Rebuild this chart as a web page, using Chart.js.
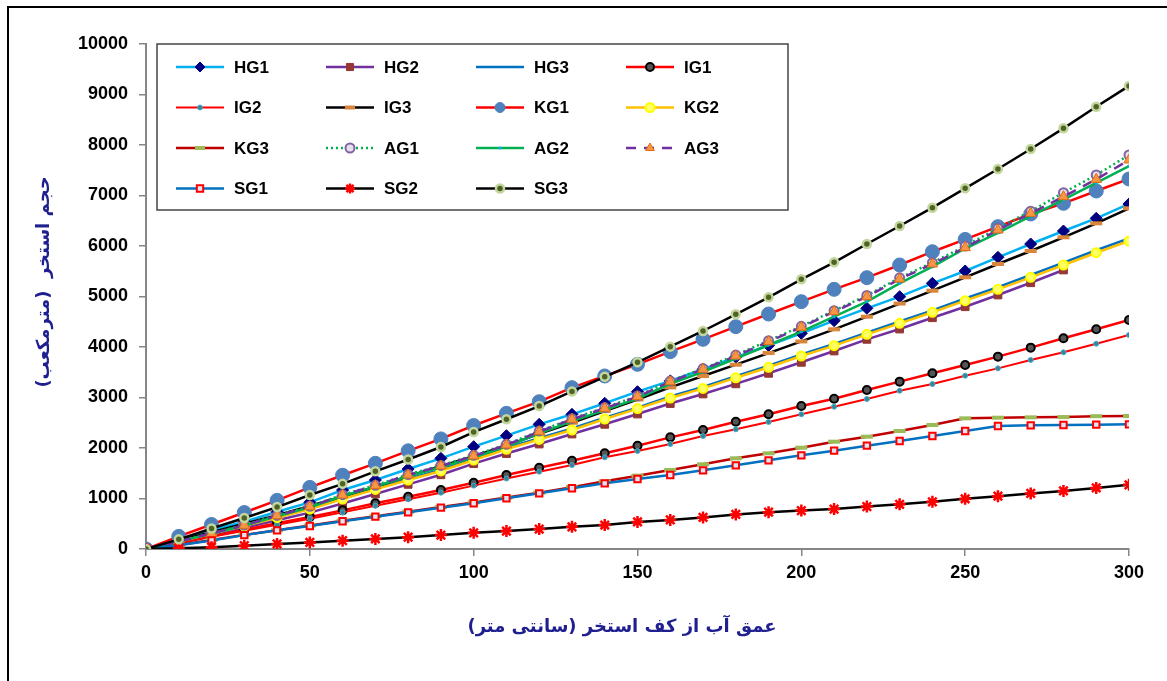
<!DOCTYPE html>
<html>
<head>
    <title>Pool volume vs depth</title>
    <style>
        body {
            margin: 0;
            background: #fff;
        }
        #wrap {
            width: 1167px;
            height: 681px;
        }
    </style>
    <script src="https://cdn.jsdelivr.net/npm/chart.js"></script>
</head>
<body>
    <div id="wrap">
        <canvas id="volumeChart" width="1167" height="681"></canvas>
    </div>

    <script>
        // depth from pool floor (cm)
        const depth = [0, 10, 20, 30, 40, 50, 60, 70, 80, 90, 100, 110, 120, 130, 140, 150,
                       160, 170, 180, 190, 200, 210, 220, 230, 240, 250, 260, 270, 280, 290, 300];

        const seriesNames = ['HG1', 'HG2', 'HG3', 'IG1', 'IG2', 'IG3', 'KG1', 'KG2',
                             'KG3', 'AG1', 'AG2', 'AG3', 'SG1', 'SG2', 'SG3'];

        // pool volume (m3)
        const HG1 = [0, 190, 370, 540, 739, 924, 1168, 1366, 1584, 1795, 2026, 2244, 2469, 2667, 2885, 3115, 3330, 3560, 3800, 4030, 4271, 4521, 4766, 4996, 5261, 5505, 5776, 6040, 6297, 6548, 6832];
        const HG2 = [0, 135, 275, 420, 570, 720, 900, 1090, 1280, 1470, 1690, 1890, 2079, 2277, 2469, 2673, 2880, 3070, 3270, 3479, 3697, 3921, 4152, 4356, 4580, 4798, 5030, 5273, 5525];
        const HG3 = [0, 150, 305, 465, 630, 800, 1000, 1195, 1385, 1570, 1785, 2000, 2195, 2385, 2600, 2800, 3020, 3210, 3420, 3630, 3855, 4060, 4285, 4505, 4725, 4960, 5185, 5425, 5670, 5915, 6150];
        const IG1 = [0, 120, 250, 380, 510, 635, 765, 905, 1036, 1168, 1313, 1465, 1610, 1749, 1895, 2046, 2211, 2356, 2521, 2667, 2832, 2977, 3149, 3314, 3479, 3644, 3809, 3987, 4172, 4350, 4535];
        const IG2 = [0, 115, 240, 360, 480, 600, 725, 855, 985, 1115, 1255, 1395, 1531, 1663, 1816, 1941, 2079, 2238, 2370, 2515, 2667, 2818, 2970, 3135, 3267, 3432, 3577, 3743, 3895, 4066, 4238];
        const IG3 = [0, 165, 330, 500, 670, 850, 1040, 1230, 1440, 1640, 1840, 2050, 2280, 2500, 2730, 2960, 3200, 3426, 3650, 3880, 4110, 4350, 4600, 4860, 5115, 5380, 5644, 5901, 6172, 6449, 6746];
        const KG1 = [0, 250, 485, 722, 963, 1220, 1460, 1696, 1944, 2180, 2445, 2686, 2917, 3195, 3426, 3657, 3908, 4152, 4403, 4653, 4898, 5142, 5373, 5624, 5887, 6130, 6383, 6634, 6845, 7089, 7327];
        const KG2 = [0, 148, 300, 460, 620, 790, 990, 1180, 1366, 1545, 1762, 1975, 2170, 2356, 2574, 2780, 2990, 3180, 3390, 3598, 3822, 4026, 4251, 4469, 4687, 4917, 5142, 5380, 5624, 5867, 6099];
        const KG3 = [0, 80, 178, 280, 372, 465, 560, 650, 738, 830, 922, 1018, 1115, 1225, 1340, 1452, 1564, 1677, 1796, 1895, 2006, 2125, 2224, 2337, 2455, 2587, 2600, 2607, 2612, 2630, 2634];
        const AG1 = [0, 152, 312, 475, 665, 845, 1075, 1262, 1475, 1655, 1855, 2072, 2335, 2580, 2800, 3030, 3325, 3572, 3840, 4125, 4410, 4720, 5020, 5370, 5670, 6000, 6350, 6690, 7056, 7406, 7802];
        const AG2 = [0, 150, 305, 465, 650, 825, 1050, 1235, 1440, 1620, 1815, 2030, 2290, 2530, 2750, 2980, 3270, 3510, 3770, 4040, 4304, 4600, 4900, 5261, 5590, 5950, 6260, 6590, 6920, 7250, 7584];
        const AG3 = [0, 150, 310, 470, 660, 838, 1069, 1254, 1465, 1644, 1842, 2059, 2323, 2568, 2786, 3016, 3313, 3558, 3822, 4105, 4390, 4699, 4996, 5346, 5644, 5967, 6317, 6647, 6977, 7320, 7703];
        const SG1 = [0, 75, 170, 275, 370, 455, 550, 640, 726, 818, 905, 1004, 1102, 1202, 1300, 1386, 1465, 1558, 1657, 1756, 1855, 1947, 2046, 2139, 2237, 2337, 2436, 2449, 2455, 2462, 2468];
        const SG2 = [0, 15, 35, 65, 100, 130, 165, 200, 235, 275, 320, 355, 395, 440, 475, 535, 575, 625, 685, 730, 760, 790, 840, 885, 935, 995, 1045, 1100, 1150, 1210, 1270];
        const SG3 = [0, 191, 405, 615, 830, 1069, 1290, 1538, 1772, 2020, 2316, 2570, 2830, 3120, 3410, 3697, 4007, 4317, 4647, 4983, 5340, 5677, 6040, 6396, 6759, 7142, 7525, 7921, 8330, 8759, 9170];

        const xTitle = 'عمق آب از کف استخر (سانتی متر)';
        const yTitle = 'حجم استخر  (مترمکعب)';

        const allValues = [HG1, HG2, HG3, IG1, IG2, IG3, KG1, KG2, KG3, AG1, AG2, AG3, SG1, SG2, SG3];

        // line + marker look of each series, same order as seriesNames
        const styles = [
            { line: '#00B0F0', w: 2.5, pt: 'rectRot', r: 6, bg: '#000080', bd: '#000080', bw: 1 },
            { line: '#7030A0', w: 2.5, pt: 'rect', r: 5.5, bg: '#953735', bd: '#953735', bw: 1 },
            { line: '#0070C0', w: 2.5, pt: 'circle', r: 0, bg: '#0070C0', bd: '#0070C0', bw: 0 },
            { line: '#FF0000', w: 2.5, pt: 'circle', r: 4, bg: '#555555', bd: '#000000', bw: 2 },
            { line: '#FF0000', w: 2, pt: 'circle', r: 2.5, bg: '#31859C', bd: '#4BACC6', bw: 1 },
            { line: '#000000', w: 2.5, pt: 'line', r: 6, bg: '#D9853B', bd: '#D9853B', bw: 4 },
            { line: '#FF0000', w: 2.5, pt: 'circle', r: 7, bg: '#4F81BD', bd: '#4F81BD', bw: 1 },
            { line: '#FFC000', w: 2.5, pt: 'circle', r: 4.5, bg: '#FFFF66', bd: '#FFFF00', bw: 2 },
            { line: '#C00000', w: 2.5, pt: 'line', r: 6, bg: '#9BBB59', bd: '#9BBB59', bw: 4 },
            { line: '#00B050', w: 2.5, pt: 'circle', r: 4.5, bg: '#E6E0EC', bd: '#8064A2', bw: 2, dash: [2, 3] },
            { line: '#00B050', w: 2.5, pt: 'circle', r: 1.5, bg: '#00B0F0', bd: '#00B0F0', bw: 0 },
            { line: '#7030A0', w: 2.5, pt: 'triangle', r: 6, bg: '#F79646', bd: '#E46C0A', bw: 1, dash: [10, 8] },
            { line: '#0070C0', w: 2.5, pt: 'rect', r: 4.5, bg: '#DCE6F2', bd: '#FF0000', bw: 2 },
            { line: '#000000', w: 2.5, pt: 'star', r: 6, bg: '#FF0000', bd: '#FF0000', bw: 2.5 },
            { line: '#000000', w: 2.5, pt: 'circle', r: 4, bg: '#4F6228', bd: '#C3D69B', bw: 2.5 }
        ];

        const datasets = seriesNames.map((name, i) => {
            const s = styles[i];
            return {
                label: name,
                data: allValues[i].map((v, k) => ({ x: depth[k], y: v })),
                borderColor: s.line,
                borderWidth: s.w,
                borderDash: s.dash || [],
                pointStyle: s.pt,
                pointRadius: s.r,
                pointBackgroundColor: s.bg,
                pointBorderColor: s.bd,
                pointBorderWidth: s.bw,
                tension: 0,
                fill: false,
                order: seriesNames.length - i   // later series drawn on top
            };
        });

        const pageDecor = {
            id: 'pageDecor',
            beforeDraw(chart) {
                const ctx = chart.ctx;
                ctx.save();
                ctx.fillStyle = '#fff';
                ctx.fillRect(0, 0, chart.width, chart.height);
                ctx.strokeStyle = '#000';
                ctx.lineWidth = 2;
                ctx.beginPath();
                ctx.moveTo(1167, 7);
                ctx.lineTo(8, 7);
                ctx.lineTo(8, 681);
                ctx.stroke();
                ctx.restore();
            },
            afterDraw(chart) {
                const ctx = chart.ctx;
                ctx.save();

                // axis titles
                ctx.fillStyle = '#1F1F8F';
                ctx.direction = 'rtl';
                ctx.textAlign = 'center';
                ctx.textBaseline = 'middle';
                ctx.font = 'bold 18px "DejaVu Sans"';
                ctx.fillText(xTitle, 622, 627);
                ctx.save();
                ctx.translate(44, 282);
                ctx.rotate(-Math.PI / 2);
                ctx.font = 'bold 18px "DejaVu Sans"';
                ctx.fillText(yTitle, 0, 0);
                ctx.restore();

                // legend box
                ctx.direction = 'ltr';
                ctx.fillStyle = '#fff';
                ctx.fillRect(157, 44, 631, 166);
                ctx.strokeStyle = '#444';
                ctx.lineWidth = 1.5;
                ctx.strokeRect(157, 44, 631, 166);

                ctx.font = 'bold 17px "Liberation Sans", Arial';
                ctx.textAlign = 'left';
                chart.data.datasets.forEach((ds, i) => {
                    const col = i % 4, row = Math.floor(i / 4);
                    const x0 = 176 + col * 150;
                    const y = 67 + row * 40.5;
                    ctx.strokeStyle = ds.borderColor;
                    ctx.lineWidth = ds.borderWidth;
                    ctx.setLineDash(ds.borderDash);
                    ctx.beginPath();
                    ctx.moveTo(x0, y);
                    ctx.lineTo(x0 + 48, y);
                    ctx.stroke();
                    ctx.setLineDash([]);
                    if (ds.pointRadius > 0) {
                        ctx.fillStyle = ds.pointBackgroundColor;
                        ctx.strokeStyle = ds.pointBorderColor;
                        ctx.lineWidth = ds.pointBorderWidth;
                        Chart.helpers.drawPoint(ctx, {
                            pointStyle: ds.pointStyle,
                            radius: Math.min(ds.pointRadius, 5),
                            rotation: 0,
                            borderWidth: ds.pointBorderWidth
                        }, x0 + 24, y);
                    }
                    ctx.fillStyle = '#000';
                    ctx.fillText(ds.label, x0 + 58, y + 1);
                });
                ctx.restore();
            }
        };

        const tickFont = { family: '"Liberation Sans", Arial', size: 18, weight: 'bold' };

        new Chart(document.getElementById('volumeChart').getContext('2d'), {
            type: 'line',
            data: { datasets: datasets },
            options: {
                responsive: false,
                animation: false,
                layout: { padding: { top: 44, right: 38, left: 0, bottom: 0 } },
                plugins: {
                    legend: { display: false },
                    tooltip: { enabled: false }
                },
                scales: {
                    x: {
                        type: 'linear',
                        min: 0,
                        max: 300,
                        grid: { drawOnChartArea: false, tickLength: 7, color: '#868686', lineWidth: 1.5 },
                        border: { color: '#868686', width: 2 },
                        ticks: { stepSize: 50, color: '#000', font: tickFont, padding: 6,
                                 callback: v => String(v) },
                        afterFit(scale) { scale.height = 132; }
                    },
                    y: {
                        min: 0,
                        max: 10000,
                        grid: { drawOnChartArea: false, tickLength: 7, color: '#868686', lineWidth: 1.5 },
                        border: { color: '#868686', width: 2 },
                        ticks: { stepSize: 1000, color: '#000', font: tickFont, padding: 11,
                                 callback: v => String(v) },
                        afterFit(scale) { scale.width = 146; }
                    }
                }
            },
            plugins: [pageDecor]
        });
    </script>
</body>
</html>
